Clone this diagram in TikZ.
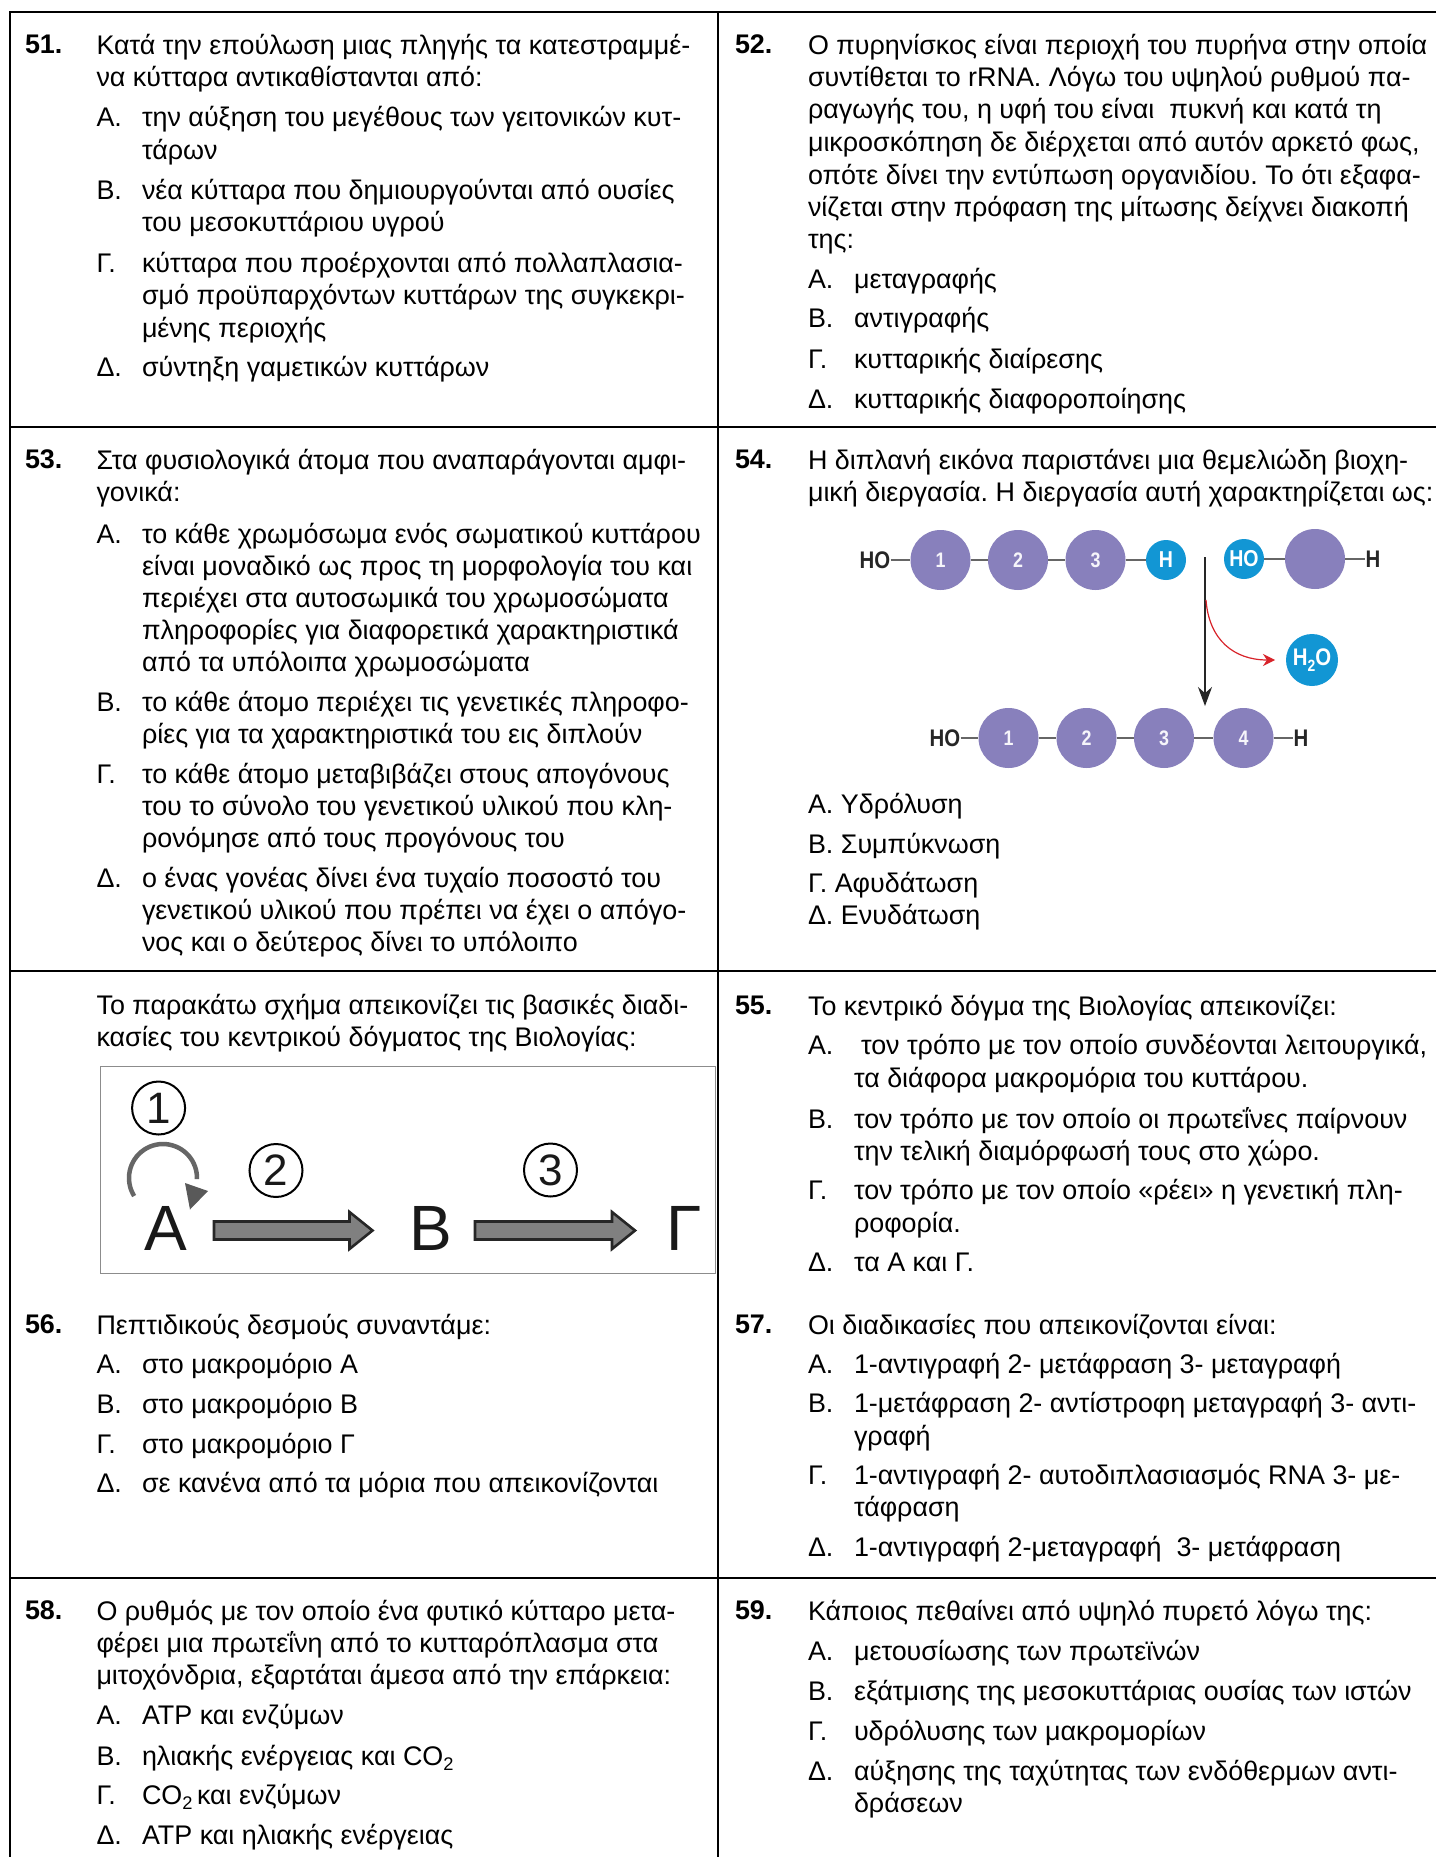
\documentclass[tikz,border=0pt]{standalone}
\usepackage{fontspec}
\usepackage{graphicx}
\setmainfont{Liberation Sans}
\usetikzlibrary{arrows.meta,shapes.arrows}
\definecolor{mol}{HTML}{8880BC}
\definecolor{wat}{HTML}{1296D4}
\definecolor{linkc}{HTML}{666666}
\definecolor{redc}{HTML}{D8232A}
\newcounter{tln}
\newcommand{\tline}[3]{\stepcounter{tln}\node[txt] (t\thetln) at (#1,#2) {#3};}
\newcommand{\numL}[2]{\stepcounter{tln}\node[numb] (t\thetln) at (25,#1) {#2};}
\newcommand{\numR}[2]{\stepcounter{tln}\node[numb] (t\thetln) at (735,#1) {#2};}
\newcommand{\qL}[2]{\tline{96.5}{#1}{#2}}
\newcommand{\qR}[2]{\tline{808}{#1}{#2}}
\newcommand{\oL}[3]{\tline{96.5}{#1}{#2}\tline{142}{#1}{#3}}
\newcommand{\oLc}[2]{\tline{142}{#1}{#2}}
\newcommand{\oR}[3]{\tline{808}{#1}{#2}\tline{854}{#1}{#3}}
\newcommand{\oRc}[2]{\tline{854}{#1}{#2}}
\newcommand{\lowtwo}{\raisebox{-0.22em}{\scalebox{0.68}{2}}}
\newcommand{\nar}[1]{\scalebox{0.85}[1]{#1}}
\tikzset{
  txt/.style={anchor=base west,inner sep=0pt,outer sep=0pt,yshift=-2pt,font=\fontsize{26.9}{32}\selectfont\frenchspacing,text=black},
  numb/.style={txt,font=\fontsize{26.9}{32}\selectfont\bfseries},
  rule/.style={line width=2pt,black},
  molc/.style={circle,fill=mol,draw=none,minimum size=60pt,inner sep=0pt,text=white!92!mol,font=\fontsize{21}{24}\selectfont\bfseries},
  watc/.style={circle,fill=wat,draw=none,minimum size=40pt,inner sep=0pt,text=white,font=\fontsize{23}{24}\selectfont\bfseries},
  endt/.style={inner sep=0pt,text=black!85,font=\fontsize{24}{26}\selectfont\bfseries},
  bond/.style={line width=1.6pt,linkc},
  bigl/.style={anchor=base,inner sep=0pt,font=\fontsize{64}{70}\selectfont,text=black!90},
  numc/.style={circle,draw=black,line width=2pt,minimum size=53pt,inner sep=0pt,font=\fontsize{44}{48}\selectfont,text=black!90},
  fatar/.style={fill=black!50,draw=black!85,line width=2.6pt,line join=miter},
}
\begin{document}
\begin{tikzpicture}[x=1pt,y=-1pt]
\useasboundingbox (0,0) rectangle (1436,1857);
\fill[white] (0,0) rectangle (1436,1857);
% grid
\draw[rule] (1436,12) -- (10,12) -- (10,1857);
\draw[rule] (718,12) -- (718,1857);
\draw[rule] (10,426.5) -- (1436,426.5);
\draw[rule] (10,971) -- (1436,971);
\draw[rule] (10,1577.5) -- (1436,1577.5);
% 51
\numL{52}{51.}
\qL{53}{Κατά την επούλωση μιας πληγής τα κατεστραμμέ-}
\qL{85}{να κύτταρα αντικαθίστανται από:}
\oL{125}{Α.}{την αύξηση του μεγέθους των γειτονικών κυτ-}
\oLc{157}{τάρων}
\oL{197}{Β.}{νέα κύτταρα που δημιουργούνται από ουσίες}
\oLc{229}{του μεσοκυττάριου υγρού}
\oL{270}{Γ.}{κύτταρα που προέρχονται από πολλαπλασια-}
\oLc{302}{σμό προϋπαρχόντων κυττάρων της συγκεκρι-}
\oLc{335}{μένης περιοχής}
\oL{374}{Δ.}{σύντηξη γαμετικών κυττάρων}
% 52
\numR{52}{52.}
\qR{53}{Ο πυρηνίσκος είναι περιοχή του πυρήνα στην οποία}
\qR{85}{συντίθεται το rRNA. Λόγω του υψηλού ρυθμού πα-}
\qR{117}{ραγωγής του, η υφή του είναι\ \ πυκνή και κατά τη}
\qR{149}{μικροσκόπηση δε διέρχεται από αυτόν αρκετό φως,}
\qR{182}{οπότε δίνει την εντύπωση οργανιδίου. Το ότι εξαφα-}
\qR{214}{νίζεται στην πρόφαση της μίτωσης δείχνει διακοπή}
\qR{246}{της:}
\oR{286}{Α.}{μεταγραφής}
\oR{325}{Β.}{αντιγραφής}
\oR{366}{Γ.}{κυτταρικής διαίρεσης}
\oR{406}{Δ.}{κυτταρικής διαφοροποίησης}
% 53
\numL{466}{53.}
\qL{467}{Στα φυσιολογικά άτομα που αναπαράγονται αμφι-}
\qL{499}{γονικά:}
\oL{541}{Α.}{το κάθε χρωμόσωμα ενός σωματικού κυττάρου}
\oLc{573}{είναι μοναδικό ως προς τη μορφολογία του και}
\oLc{605}{περιέχει στα αυτοσωμικά του χρωμοσώματα}
\oLc{637}{πληροφορίες για διαφορετικά χαρακτηριστικά}
\oLc{669}{από τα υπόλοιπα χρωμοσώματα}
\oL{709}{Β.}{το κάθε άτομο περιέχει τις γενετικές πληροφο-}
\oLc{741}{ρίες για τα χαρακτηριστικά του εις διπλούν}
\oL{781}{Γ.}{το κάθε άτομο μεταβιβάζει στους απογόνους}
\oLc{813}{του το σύνολο του γενετικού υλικού που κλη-}
\oLc{845}{ρονόμησε από τους προγόνους του}
\oL{885}{Δ.}{ο ένας γονέας δίνει ένα τυχαίο ποσοστό του}
\oLc{917}{γενετικού υλικού που πρέπει να έχει ο απόγο-}
\oLc{949}{νος και ο δεύτερος δίνει το υπόλοιπο}
% 54
\numR{466}{54.}
\qR{467}{Η διπλανή εικόνα παριστάνει μια θεμελιώδη βιοχη-}
\qR{499}{μική διεργασία. Η διεργασία αυτή χαρακτηρίζεται ως:}
\qR{811}{Α. Υδρόλυση}
\qR{851}{Β. Συμπύκνωση}
\qR{890}{Γ. Αφυδάτωση}
\qR{922}{Δ. Ενυδάτωση}
% molecule diagram
\node[endt] (ho1) at (875,560) {\nar{HO}};
\node[molc] (a1) at (940.5,560) {\nar{1}};
\node[molc] (a2) at (1018,560) {\nar{2}};
\node[molc] (a3) at (1095.5,560) {\nar{3}};
\node[watc] (ah) at (1166,560) {\nar{H}};
\node[watc] (bho) at (1244,559) {\nar{HO}};
\node[molc] (b1) at (1315,559) {};
\node[endt] (bh) at (1373,559) {\nar{H}};
\draw[bond] (ho1) -- (a1);
\draw[bond] (a1) -- (a2);
\draw[bond] (a2) -- (a3);
\draw[bond] (a3) -- (ah);
\draw[bond] (bho) -- (b1);
\draw[bond] (b1) -- (bh);
\node[endt] (ho2) at (945,738) {\nar{HO}};
\node[molc] (c1) at (1008.5,738) {\nar{1}};
\node[molc] (c2) at (1086.5,738) {\nar{2}};
\node[molc] (c3) at (1164,738) {\nar{3}};
\node[molc] (c4) at (1243.5,738) {\nar{4}};
\node[endt] (ch) at (1301,738) {\nar{H}};
\draw[bond] (ho2) -- (c1);
\draw[bond] (c1) -- (c2);
\draw[bond] (c2) -- (c3);
\draw[bond] (c3) -- (c4);
\draw[bond] (c4) -- (ch);
\node[circle,fill=wat,minimum size=52pt,inner sep=0pt,text=white,font=\fontsize{24}{26}\selectfont\bfseries] (wtr) at (1312,660) {\nar{H\lowtwo O}};
\coordinate (vs) at (1205,557);
\coordinate (ve) at (1205,706);
\coordinate (rs) at (1206,600);
\coordinate (re) at (1275,660);
\draw[line width=1.4pt,black!85,-{Stealth[length=19pt,width=14pt]}] (vs) -- (ve);
\draw[line width=1.2pt,redc,-{Stealth[length=12pt,width=12pt]}] (rs) .. controls (1209,640) and (1234,660) .. (re);
% left middle
\qL{1012}{Το παρακάτω σχήμα απεικονίζει τις βασικές διαδι-}
\qL{1044}{κασίες του κεντρικού δόγματος της Βιολογίας:}
% dogma figure
\node[draw=black!45,line width=1pt,fill=white,minimum width=615pt,minimum height=207pt,inner sep=0pt] (fig) at (407.5,1169.5) {};
\node[numc] (n1) at (158.6,1108) {1};
\node[numc] (n2) at (276,1170.5) {2};
\node[numc] (n3) at (550.5,1170) {3};
\node[bigl] (A) at (166,1250) {Α};
\node[bigl] (B) at (431,1250) {Β};
\node[bigl] (G) at (684,1250) {Γ};
\draw[line width=4.5pt,black!60] plot[domain=212:-2,samples=40,smooth] ({163+34*cos(\x)},{1178-34*sin(\x)});
\fill[black!65] (185,1183) -- (208,1191) -- (190,1209.5) -- cycle;
\draw[fatar] (214,1221.5) -- (349.5,1221.5) -- (349.5,1212) -- (372.5,1230.5) -- (349.5,1249) -- (349.5,1239.5) -- (214,1239.5) -- cycle;
\draw[fatar] (475,1221.5) -- (612,1221.5) -- (612,1212) -- (635,1230.5) -- (612,1249) -- (612,1239.5) -- (475,1239.5) -- cycle;
% 56
\numL{1331}{56.}
\qL{1332}{Πεπτιδικούς δεσμούς συναντάμε:}
\oL{1371}{Α.}{στο μακρομόριο Α}
\oL{1411}{Β.}{στο μακρομόριο Β}
\oL{1451}{Γ.}{στο μακρομόριο Γ}
\oL{1490}{Δ.}{σε κανένα από τα μόρια που απεικονίζονται}
% 55
\numR{1012}{55.}
\qR{1013}{Το κεντρικό δόγμα της Βιολογίας απεικονίζει:}
\tline{808}{1052}{Α.}\tline{861}{1052}{τον τρόπο με τον οποίο συνδέονται λειτουργικά,}
\oRc{1085}{τα διάφορα μακρομόρια του κυττάρου.}
\oR{1126}{Β.}{τον τρόπο με τον οποίο οι πρωτεΐνες παίρνουν}
\oRc{1158}{την τελική διαμόρφωσή τους στο χώρο.}
\oR{1197}{Γ.}{τον τρόπο με τον οποίο «ρέει» η γενετική πλη-}
\oRc{1230}{ροφορία.}
\oR{1269}{Δ.}{τα Α και Γ.}
% 57
\numR{1331}{57.}
\qR{1332}{Οι διαδικασίες που απεικονίζονται είναι:}
\oR{1371}{Α.}{1-αντιγραφή 2- μετάφραση 3- μεταγραφή}
\oR{1410}{Β.}{1-μετάφραση 2- αντίστροφη μεταγραφή 3- αντι-}
\oRc{1443}{γραφή}
\oR{1482}{Γ.}{1-αντιγραφή 2- αυτοδιπλασιασμός RNA 3- με-}
\oRc{1514}{τάφραση}
\oR{1554}{Δ.}{1-αντιγραφή 2-μεταγραφή\ \ 3- μετάφραση}
% 58
\numL{1617}{58.}
\qL{1618}{Ο ρυθμός με τον οποίο ένα φυτικό κύτταρο μετα-}
\qL{1650}{φέρει μια πρωτεΐνη από το κυτταρόπλασμα στα}
\qL{1682}{μιτοχόνδρια, εξαρτάται άμεσα από την επάρκεια:}
\oL{1722}{Α.}{ΑΤΡ και ενζύμων}
\oL{1763}{Β.}{ηλιακής ενέργειας και CO\lowtwo}
\oL{1802}{Γ.}{CO\lowtwo\,και ενζύμων}
\oL{1842}{Δ.}{ΑΤΡ και ηλιακής ενέργειας}
% 59
\numR{1617}{59.}
\qR{1618}{Κάποιος πεθαίνει από υψηλό πυρετό λόγω της:}
\oR{1658}{Α.}{μετουσίωσης των πρωτεϊνών}
\oR{1698}{Β.}{εξάτμισης της μεσοκυττάριας ουσίας των ιστών}
\oR{1738}{Γ.}{υδρόλυσης των μακρομορίων}
\oR{1778}{Δ.}{αύξησης της ταχύτητας των ενδόθερμων αντι-}
\oRc{1810}{δράσεων}
\end{tikzpicture}
\end{document}
